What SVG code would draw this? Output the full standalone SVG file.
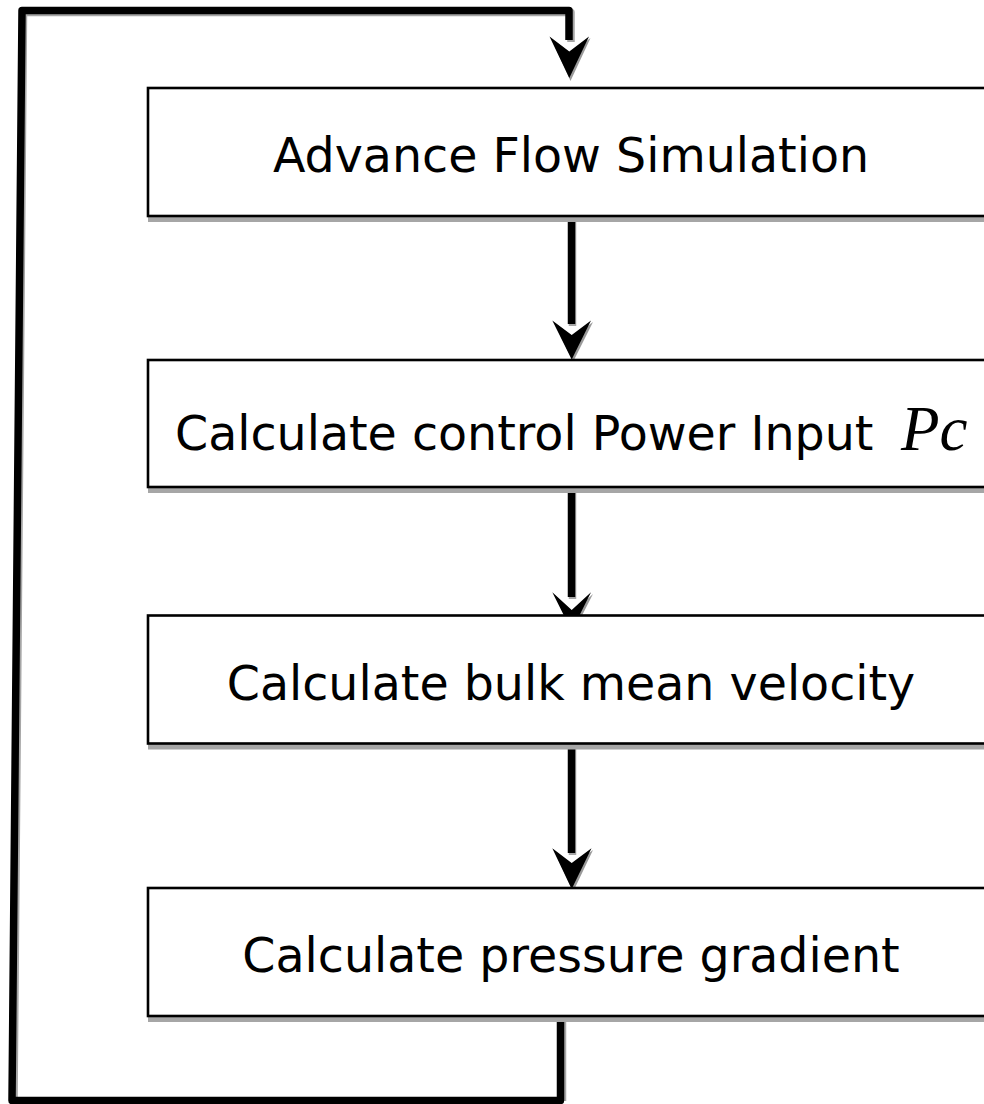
<svg xmlns="http://www.w3.org/2000/svg" width="984" height="1104" viewBox="0 0 984 1104">
  <style>
    .box { fill: #ffffff; stroke: #000000; stroke-width: 2.6; }
    .shadow { fill: #a6a6a6; stroke: none; }
    .label { font-family: "DejaVu Sans", sans-serif; font-size: 47.5px; fill: #000000; text-anchor: middle; }
    .math { font-family: "Liberation Serif", serif; font-style: italic; font-size: 63px; fill: #000000; }
    .wire { fill: none; stroke: #000000; stroke-width: 7.5; stroke-linejoin: round; }
    .wire-sh { fill: none; stroke: #a6a6a6; stroke-width: 7.5; stroke-linejoin: round; }
    .head { fill: #000000; stroke: none; }
    .head-sh { fill: #9a9a9a; stroke: none; }
  </style>
  <rect width="984" height="1104" fill="#ffffff"/>

  <g id="connectors">
    <!-- shadows -->
    <path class="wire-sh" d="M14 1100.5 L23.5 12.5 L571 12.5 L571 42"/>
    <line class="wire-sh" x1="572.5" y1="218" x2="572.5" y2="326"/>
    <line class="wire-sh" x1="572.5" y1="489" x2="572.5" y2="599"/>
    <line class="wire-sh" x1="572.5" y1="746" x2="572.5" y2="855"/>
    <line class="wire-sh" x1="562.5" y1="1018" x2="562.5" y2="1101"/>
    <polygon class="head-sh" points="551,38 570.5,53 590.5,38 570.5,81"/>
    <polygon class="head-sh" points="554,322 573,337 593,322 573,362"/>
    <polygon class="head-sh" points="554,594 573,612 593,594 573,633"/>
    <polygon class="head-sh" points="554,850 573,865 593,850 573,892"/>
    <!-- loop back -->
    <path class="wire" d="M560.5 1016 L560.5 1100.5 L12 1100.5 L22 10.5 L569 10.5 L569 40"/>
    <!-- vertical connectors -->
    <line class="wire" x1="571.5" y1="216" x2="571.5" y2="324"/>
    <line class="wire" x1="571.5" y1="487" x2="571.5" y2="597"/>
    <line class="wire" x1="571.5" y1="744" x2="571.5" y2="853"/>
    <!-- arrowheads -->
    <polygon class="head" points="549.5,36.5 569.3,51.5 589,36.5 569.3,78"/>
    <polygon class="head" points="552.3,320.5 571.7,335 591,320.5 571.7,359.5"/>
    <polygon class="head" points="552.3,592.3 571.7,610 591,592.3 571.7,631"/>
    <polygon class="head" points="552.3,848.3 571.7,863 591.5,848.3 571.7,889"/>
  </g>

  <g id="node-advance">
    <rect class="shadow" x="148" y="88" width="850" height="134"/>
    <rect class="box" x="148" y="88" width="850" height="128"/>
    <text class="label" x="571" y="172">Advance Flow Simulation</text>
  </g>

  <g id="node-power">
    <rect class="shadow" x="148" y="360" width="850" height="133"/>
    <rect class="box" x="148" y="360" width="850" height="127"/>
    <text class="label" x="175" y="450" style="text-anchor:start">Calculate control Power Input <tspan class="math" x="901">Pc</tspan></text>
  </g>

  <g id="node-velocity">
    <rect class="shadow" x="148" y="615.5" width="850" height="134"/>
    <rect class="box" x="148" y="615.5" width="850" height="128"/>
    <text class="label" x="571" y="700">Calculate bulk mean velocity</text>
  </g>

  <g id="node-pressure">
    <rect class="shadow" x="148" y="888" width="850" height="134"/>
    <rect class="box" x="148" y="888" width="850" height="128"/>
    <text class="label" x="571" y="972">Calculate pressure gradient</text>
  </g>
</svg>
